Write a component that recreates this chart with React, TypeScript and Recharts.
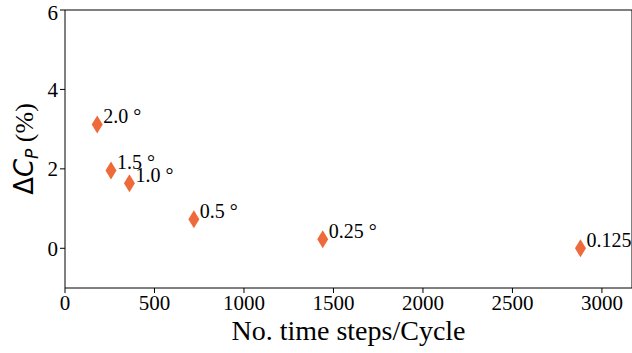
import { ScatterChart, Scatter, XAxis, YAxis, ReferenceLine } from 'recharts'

const steps = [180, 257, 360, 720, 1440, 2880]
const deltaCp = [3.12, 1.96, 1.64, 0.73, 0.23, 0.0]
const pointLabels = ['2.0 °', '1.5 °', '1.0 °', '0.5 °', '0.25 °', '0.125']
const xTicks = [0, 500, 1000, 1500, 2000, 2500, 3000]
const yTicks = [0, 2, 4, 6]

const data = steps.map((s, i) => ({ x: s, y: deltaCp[i], label: pointLabels[i] }))

const color = '#ef6a3a'
const font = '"Liberation Serif", "DejaVu Serif", serif'
const sans = '"DejaVu Sans", sans-serif'

// thin diamond (matplotlib 'd') with its annotation next to it
const DiamondWithLabel = (props: any) => {
  const { cx, cy, payload } = props
  return (
    <g>
      <path
        d={`M${cx},${cy - 9} L${cx + 5.5},${cy} L${cx},${cy + 9} L${cx - 5.5},${cy} Z`}
        fill={color}
      />
      <text x={cx + 6} y={cy - 1} fontSize={20} fontFamily={font} fill="#000">
        {payload.label}
      </text>
    </g>
  )
}

export default function App() {
  return (
    <div style={{ position: 'absolute', left: 0, top: 0, background: '#fff' }}>
      <ScatterChart width={632} height={353} margin={{ top: 10, right: 0, bottom: 0, left: 0 }}>
        <XAxis
          type="number"
          dataKey="x"
          domain={[0, 3168]}
          ticks={xTicks}
          allowDataOverflow
          height={65}
          tick={{ fontSize: 21, fill: '#000', fontFamily: font }}
          tickLine={{ stroke: '#000' }}
          axisLine={{ stroke: '#000' }}
          tickSize={5}
          label={{ value: 'No. time steps/Cycle', position: 'insideBottom', offset: 13, style: { fontSize: 28, fill: '#000', fontFamily: font } }}
        />
        <YAxis
          type="number"
          dataKey="y"
          domain={[-1, 6]}
          ticks={yTicks}
          allowDataOverflow
          width={65}
          tick={{ fontSize: 21, fill: '#000', fontFamily: font }}
          tickLine={{ stroke: '#000' }}
          axisLine={{ stroke: '#000' }}
          tickSize={5}
          label={() => (
            <text
              x={33}
              y={149}
              transform="rotate(-90 33 149)"
              textAnchor="middle"
              fontSize={26}
              fontFamily={font}
              fill="#000"
            >
              <tspan fontFamily={sans}>Δ</tspan>
              <tspan fontStyle="italic" fontFamily={sans}>C</tspan>
              <tspan fontStyle="italic" fontSize={17} dy={5} fontFamily={sans}>P</tspan>
              <tspan dy={-5}> (%)</tspan>
            </text>
          )}
        />
        <ReferenceLine y={6} stroke="#000" />
        <ReferenceLine x={3168} stroke="#000" />
        <Scatter data={data} shape={<DiamondWithLabel />} isAnimationActive={false} />
      </ScatterChart>
    </div>
  )
}
